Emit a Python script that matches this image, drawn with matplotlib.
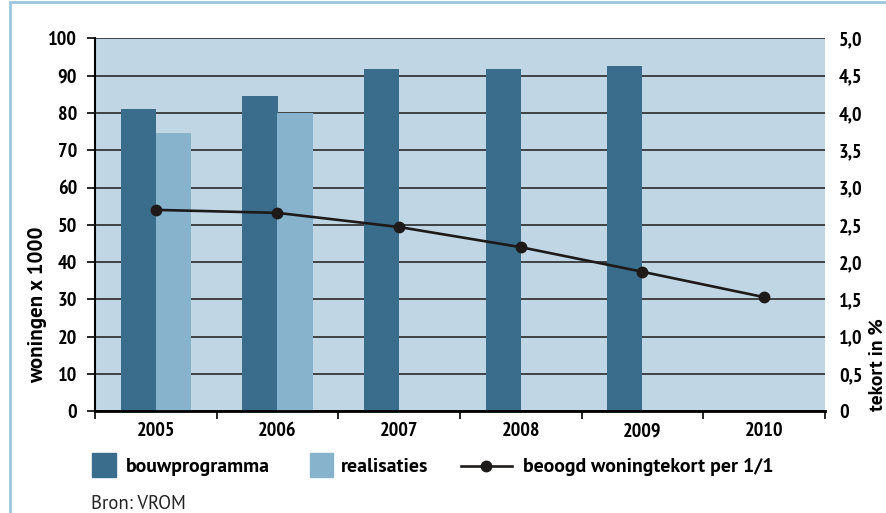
import matplotlib
matplotlib.use("Agg")
import matplotlib.pyplot as plt
from matplotlib.patches import Rectangle
from matplotlib.lines import Line2D

narrow = ['PT Sans Narrow', 'DejaVu Sans']
wide = ['PT Sans', 'DejaVu Sans']
plt.rcParams['font.family'] = narrow

years = ['2005', '2006', '2007', '2008', '2009', '2010']
bouwprogramma = [81.0, 84.5, 91.8, 91.8, 92.6, None]
realisaties = [74.6, 80.0, None, None, None, None]
tekort = [2.70, 2.66, 2.47, 2.20, 1.87, 1.53]

left_ticks = list(range(0, 101, 10))
right_ticks = [0, 0.5, 1.0, 1.5, 2.0, 2.5, 3.0, 3.5, 4.0, 4.5, 5.0]
right_labels = ['0'] + ['{:.1f}'.format(v).replace('.', ',') for v in right_ticks[1:]]

c_bg = '#c0d6e4'
c_dark = '#3a6d8c'
c_light = '#88b3cc'
c_line = '#1e1a1a'
fs = 14.5   # tick labels
fl = 14.3   # legend

fig = plt.figure(figsize=(8.87, 5.13), dpi=100)
ax = fig.add_axes([95 / 887, 1 - 411.3 / 513, 730 / 887, 373 / 513])
ax.set_facecolor(c_bg)

x = list(range(len(years)))
w = 0.29
for i in x:
    if bouwprogramma[i] is not None:
        ax.bar(i - w / 2, bouwprogramma[i], width=w, color=c_dark, zorder=2)
    if realisaties[i] is not None:
        ax.bar(i + w / 2, realisaties[i], width=w, color=c_light, zorder=2)

ax.set_xlim(-0.5, len(years) - 0.5)
ax.set_ylim(0, 100)
ax.set_yticks(left_ticks)
ax.yaxis.grid(True, color='#2a2a2a', lw=1.2, zorder=1)
ax.set_axisbelow(True)
ax.tick_params(axis='y', length=6, width=1.2, pad=7, labelsize=fs)
for t in ax.get_yticklabels():
    t.set_fontweight('bold')

# boundary ticks between years, labels at centres
ax.set_xticks([i - 0.5 for i in range(len(years) + 1)])
ax.set_xticklabels([])
ax.set_xticks(x, minor=True)
ax.set_xticklabels(years, minor=True, fontweight='bold', fontsize=fs)
ax.tick_params(axis='x', which='major', length=6, width=1.2, direction='out')
ax.tick_params(axis='x', which='minor', length=0, pad=8)

for s in ['top', 'right']:
    ax.spines[s].set_visible(False)
ax.spines['left'].set_linewidth(1.5)
ax.spines['bottom'].set_linewidth(2)

ax2 = ax.twinx()
ax2.plot(x, tekort, color=c_line, lw=1.9, marker='o', markersize=7.5, zorder=5)
ax2.set_ylim(0, 5)
ax2.set_yticks(right_ticks)
ax2.set_yticklabels(right_labels, fontweight='bold', fontsize=fs)
ax2.tick_params(axis='y', length=0, pad=10)
for s in ax2.spines.values():
    s.set_visible(False)

fig.text(38 / 887, 1 - 305 / 513, 'woningen x 1000', rotation=90, family=wide,
         ha='center', va='center', fontsize=15, fontweight='bold')
fig.text(878 / 887, 1 - 365 / 513, 'tekort in %', rotation=90, family=wide,
         ha='center', va='center', fontsize=14, fontweight='bold')

# legend
W, H = 887, 513
fig.add_artist(Rectangle((92 / W, 1 - 477 / H), 24 / W, 24 / H,
                         transform=fig.transFigure, color=c_dark))
fig.text(126 / W, 1 - 467 / H, 'bouwprogramma', family=wide, fontsize=fl, fontweight='bold', va='center')
fig.add_artist(Rectangle((310 / W, 1 - 477 / H), 23 / W, 24 / H,
                         transform=fig.transFigure, color=c_light))
fig.text(341 / W, 1 - 467 / H, 'realisaties', family=wide, fontsize=fl, fontweight='bold', va='center')
fig.add_artist(Line2D([461 / W, 512 / W], [1 - 466 / H, 1 - 466 / H],
                      transform=fig.transFigure, color=c_line, lw=1.9))
fig.add_artist(Line2D([486.5 / W], [1 - 466 / H], transform=fig.transFigure,
                      color=c_line, marker='o', markersize=7.5))
fig.text(523 / W, 1 - 467 / H, 'beoogd woningtekort per 1/1', family=wide, fontsize=fl,
         fontweight='bold', va='center')

fig.text(91 / W, 1 - 504 / H, 'Bron: VROM', family=wide, fontsize=13.5, va='center', color='#222222')

# light blue frame
fig.add_artist(Rectangle((10 / W, -0.05), 1.1, 1 - 1.5 / H + 0.05,
                         transform=fig.transFigure, fill=False,
                         edgecolor='#9cc6dc', lw=2))

fig.savefig('out.png', dpi=100)
